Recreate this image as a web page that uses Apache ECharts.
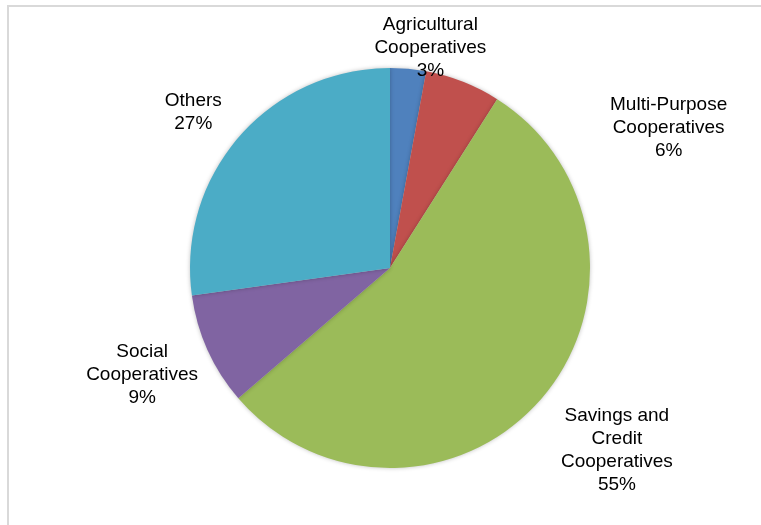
<!DOCTYPE html>
<html lang="en">
<head>
<meta charset="UTF-8">
<title>Cooperatives by type</title>
<script src="https://cdn.jsdelivr.net/npm/echarts@6/dist/echarts.min.js"></script>
<style>
  html, body { margin: 0; padding: 0; background: #fff; }
  #chart { width: 761px; height: 525px; }
</style>
</head>
<body>
<div id="chart"></div>
<script type="text/javascript">
// category names (label text) and shares
var names = ['Agricultural\nCooperatives', 'Multi-Purpose\nCooperatives', 'Savings and\nCredit\nCooperatives', 'Social\nCooperatives', 'Others'];
var values = [2.9, 6.1, 54.7, 9.1, 27.2];
var colors = ['#4F81BD', '#C0504D', '#9BBB59', '#8064A2', '#4BACC6'];
// label nudges from the inside anchor point
var labelOffsets = [[31, -118], [241, -44], [149, 115], [-154, 64], [-119, -88]];

var myChart = echarts.init(document.getElementById('chart'));

var data = [];
for (var i = 0; i < names.length; i++) {
  data.push({
    name: names[i],
    value: values[i],
    itemStyle: { color: colors[i] },
    label: { offset: labelOffsets[i] }
  });
}

var option = {
  animation: false,
  graphic: [{
    type: 'rect',
    shape: { x: 8, y: 6, width: 900, height: 700 },
    style: { fill: 'none', stroke: '#d9d9d9', lineWidth: 2 },
    silent: true
  }],
  series: [{
    type: 'pie',
    center: [390, 268],
    radius: [0, 200],
    startAngle: 90,
    clockwise: true,
    percentPrecision: 0,
    data: data,
    itemStyle: {
      borderWidth: 0,
      shadowBlur: 4,
      shadowColor: 'rgba(0,0,0,0.25)'
    },
    label: {
      show: true,
      position: 'inside',
      formatter: '{b}\n{d}%',
      color: '#000',
      textBorderWidth: 0,
      fontFamily: 'Liberation Sans, Arial, sans-serif',
      fontSize: 19,
      lineHeight: 23,
      align: 'center'
    },
    labelLine: { show: false },
    emphasis: { disabled: true }
  }]
};

myChart.setOption(option);
</script>
</body>
</html>
